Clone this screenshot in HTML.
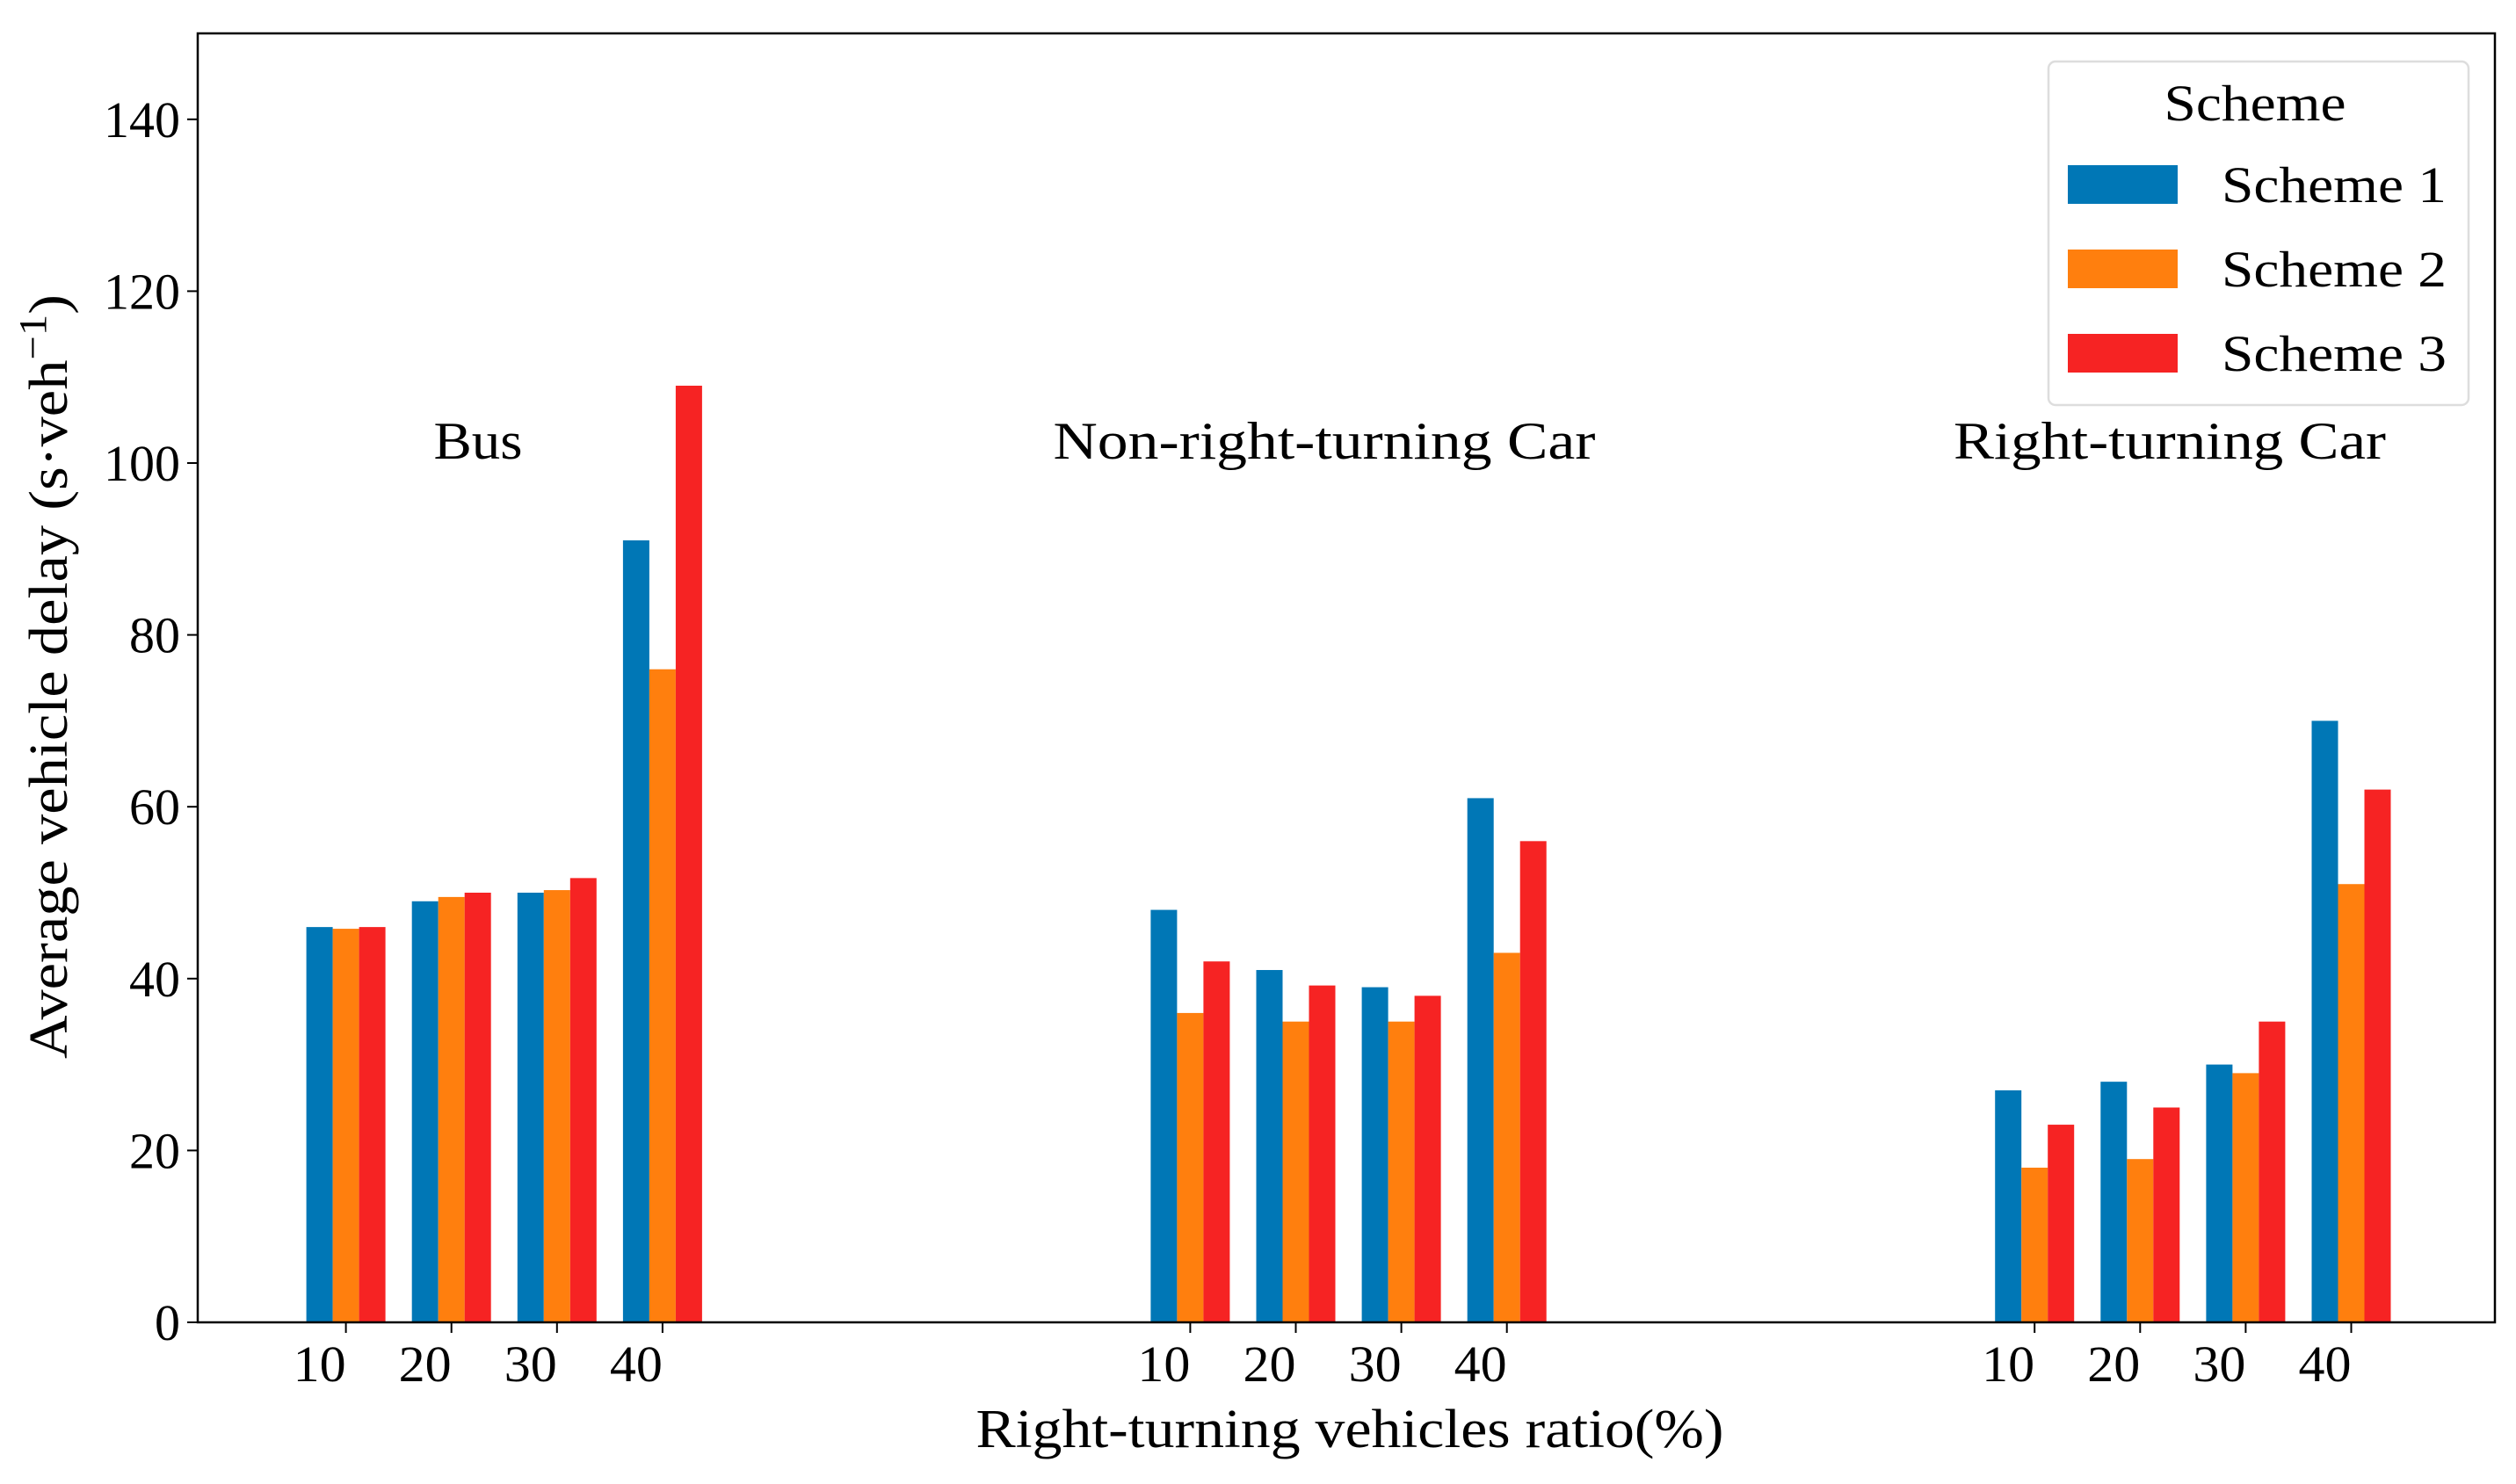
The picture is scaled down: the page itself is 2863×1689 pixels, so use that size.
<!DOCTYPE html>
<html><head><meta charset="utf-8"><style>
html,body{margin:0;padding:0;background:#fff}
svg{display:block}
text{font-family:"Liberation Serif",serif;fill:#000}
</style></head><body>
<svg id="chart" width="2863" height="1689" viewBox="0 0 2863 1689">
<g id="plot"></g>
</svg>
<script>
const groups = ["Bus","Non-right-turning Car","Right-turning Car"];
const ratios = ["10","20","30","40"];
const scheme1 = [[46,49,50,91],[48,41,39,61],[27,28,30,70]];
const scheme2 = [[45.8,49.5,50.3,76],[36,35,35,43],[18,19,29,51]];
const scheme3 = [[46,50,51.7,109],[42,39.2,38,56],[23,25,35,62]];
const yTicks = [0,20,40,60,80,100,120,140];
const seriesNames = ["Scheme 1","Scheme 2","Scheme 3"];
const colors = ["#0077b6","#ff7f0e","#f62323"];

const NS="http://www.w3.org/2000/svg";
const g=document.getElementById('plot');
const L=225,R=2839,T=38,B=1505,YMAX=150;
const x0=393.6,u=120.1,bw=30;
function y(v){return B-(v/YMAX)*(B-T);}
function xi(gi,ri){return x0+(gi*8+ri)*u;}
function mk(tag,attrs){const e=document.createElementNS(NS,tag);for(const k in attrs)e.setAttribute(k,attrs[k]);g.appendChild(e);return e;}

const all=[scheme1,scheme2,scheme3];
for(let s=0;s<3;s++)for(let gi=0;gi<groups.length;gi++)for(let ri=0;ri<ratios.length;ri++){
  const v=all[s][gi][ri];
  const cx=xi(gi,ri)+(s-1)*bw;
  const r=mk('rect',{x:cx-bw/2,y:y(v),width:bw,height:B-y(v),fill:colors[s]});
  
  
}
const fr=mk('rect',{x:L,y:T,width:R-L,height:B-T,fill:'none',stroke:'#000','stroke-width':2.5});


yTicks.forEach(t=>{
  mk('line',{x1:L-12,x2:L,y1:y(t),y2:y(t),stroke:'#000','stroke-width':2});
  const s=String(t);
  const tx=mk('text',{x:205,y:y(t)+20,'text-anchor':'end','font-size':58,textLength:s.length*29,lengthAdjust:'spacingAndGlyphs'});
  tx.textContent=s;
  
  
});
for(let gi=0;gi<groups.length;gi++)for(let ri=0;ri<ratios.length;ri++){
  const xx=xi(gi,ri);
  mk('line',{x1:xx,x2:xx,y1:B,y2:B+12,stroke:'#000','stroke-width':2});
  const tx=mk('text',{x:xx-30,y:1572,'text-anchor':'middle','font-size':58,textLength:60,lengthAdjust:'spacingAndGlyphs'});
  tx.textContent=ratios[ri];
  
  
}
const gl=[544,1507,2469];
const glw=[101,617,492];
groups.forEach((n,i)=>{
  const tx=mk('text',{x:gl[i],y:522,'text-anchor':'middle','font-size':60,textLength:glw[i],lengthAdjust:'spacingAndGlyphs'});
  tx.textContent=n;
  
  
});
const xt=mk('text',{x:1536,y:1647,'text-anchor':'middle','font-size':62,textLength:851,lengthAdjust:'spacingAndGlyphs'});
xt.textContent='Right-turning vehicles ratio(%)';


const yt=mk('text',{x:0,y:0,'text-anchor':'middle','font-size':62,textLength:870,lengthAdjust:'spacingAndGlyphs',transform:'translate(76,770) rotate(-90)'});
yt.innerHTML='Average vehicle delay (s·veh<tspan dy="-24" font-size="44">−1</tspan><tspan dy="24">)</tspan>';


const lb=mk('rect',{x:2331,y:70,width:478,height:391,rx:8,fill:'#fff',stroke:'#ddd','stroke-width':2.5});


const lt=mk('text',{x:2566,y:137,'text-anchor':'middle','font-size':58,textLength:207,lengthAdjust:'spacingAndGlyphs'});
lt.textContent='Scheme';


seriesNames.forEach((n,i)=>{
  const cy=210+i*96;
  const p=mk('rect',{x:2353,y:cy-22,width:125,height:44,fill:colors[i]});
  
  
  const t=mk('text',{x:2528,y:cy+20,'font-size':58,textLength:256,lengthAdjust:'spacingAndGlyphs'});
  t.textContent=n;
  
  
});
</script>
</body></html>
